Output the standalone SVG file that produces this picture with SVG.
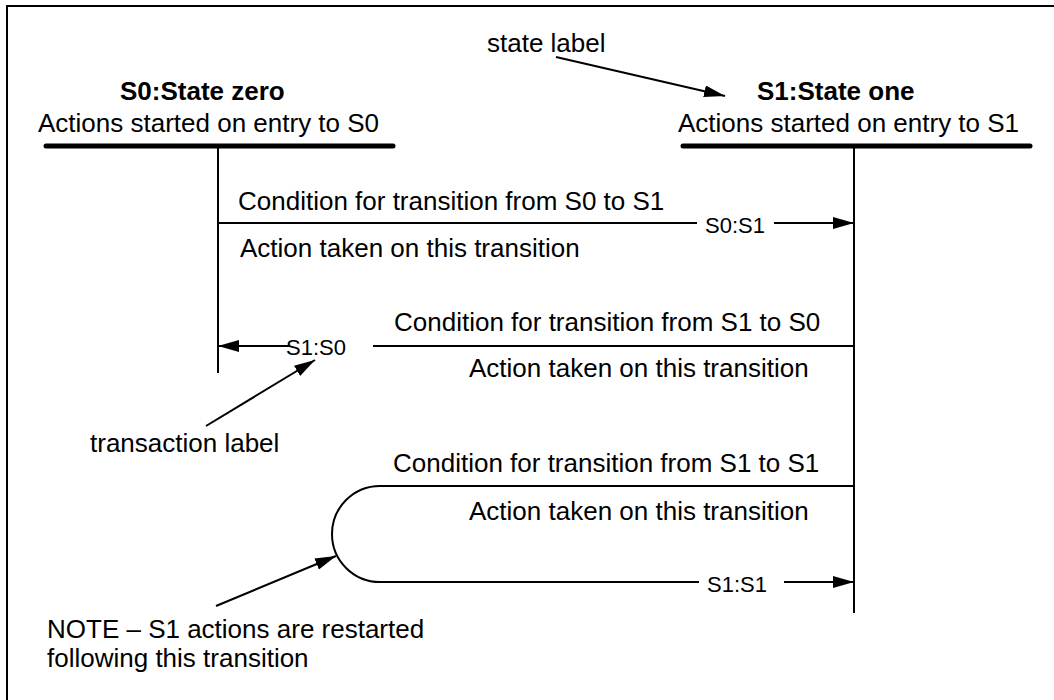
<svg xmlns="http://www.w3.org/2000/svg" width="1054" height="700" viewBox="0 0 1054 700">
  <style>
    .t { font-family: "Liberation Sans", Arial, sans-serif; font-size: 26px; fill: #000; }
    .b { font-weight: bold; }
    .s { font-size: 22px; }
    .ln { stroke: #000; stroke-width: 2; fill: none; }
    .bar { stroke: #000; stroke-width: 5; stroke-linecap: round; fill: none; }
    .arr { marker-end: url(#ah); }
  </style>
  <defs>
    <marker id="ah" markerUnits="userSpaceOnUse" markerWidth="22" markerHeight="14" refX="21" refY="6" orient="auto">
      <path d="M0,0 L21,6 L0,12 Z" fill="#000"/>
    </marker>
  </defs>
  <rect width="1054" height="700" fill="#fff"/>
  <path class="ln" d="M7,700 V6 H1054"/>

  <g id="S0">
    <text class="t b" x="120" y="100">S0:State zero</text>
    <text class="t" x="38" y="132">Actions started on entry to S0</text>
    <path class="bar" d="M46,146 H393"/>
    <path class="ln" d="M218,146 V373"/>
  </g>

  <g id="S1">
    <text class="t b" x="757" y="100">S1:State one</text>
    <text class="t" x="678" y="132">Actions started on entry to S1</text>
    <path class="bar" d="M683,146 H1030"/>
    <path class="ln" d="M854,146 V613"/>
  </g>

  <g id="connectors">
    <g id="t_S0_S1">
      <path class="ln" d="M218,223 H697"/>
      <path class="ln arr" d="M774,223 H854"/>
      <text class="t s" x="705" y="233">S0:S1</text>
      <text class="t" x="238" y="210">Condition for transition from S0 to S1</text>
      <text class="t" x="240" y="257">Action taken on this transition</text>
    </g>
    <g id="t_S1_S0">
      <path class="ln" d="M854,346 H373"/>
      <path class="ln arr" d="M290,346 H218"/>
      <text class="t s" x="286" y="355">S1:S0</text>
      <text class="t" x="394" y="331">Condition for transition from S1 to S0</text>
      <text class="t" x="469" y="377">Action taken on this transition</text>
    </g>
    <g id="t_S1_S1">
      <path class="ln" d="M854,486 H380 A48,48 0 0 0 380,582 H699"/>
      <path class="ln arr" d="M784,582 H854"/>
      <text class="t s" x="707" y="592">S1:S1</text>
      <text class="t" x="393" y="472">Condition for transition from S1 to S1</text>
      <text class="t" x="469" y="520">Action taken on this transition</text>
    </g>
  </g>

  <g id="annotations">
    <g id="state-label">
      <text class="t" x="487" y="52">state label</text>
      <path class="ln arr" d="M556,57 L725,96"/>
    </g>
    <g id="transaction-label">
      <text class="t" x="90" y="452">transaction label</text>
      <path class="ln arr" d="M206,426 L315,360"/>
    </g>
    <g id="note">
      <text class="t" x="47" y="638">NOTE – S1 actions are restarted</text>
      <text class="t" x="47" y="667">following this transition</text>
      <path class="ln arr" d="M216,606 L336,556"/>
    </g>
  </g>
</svg>
